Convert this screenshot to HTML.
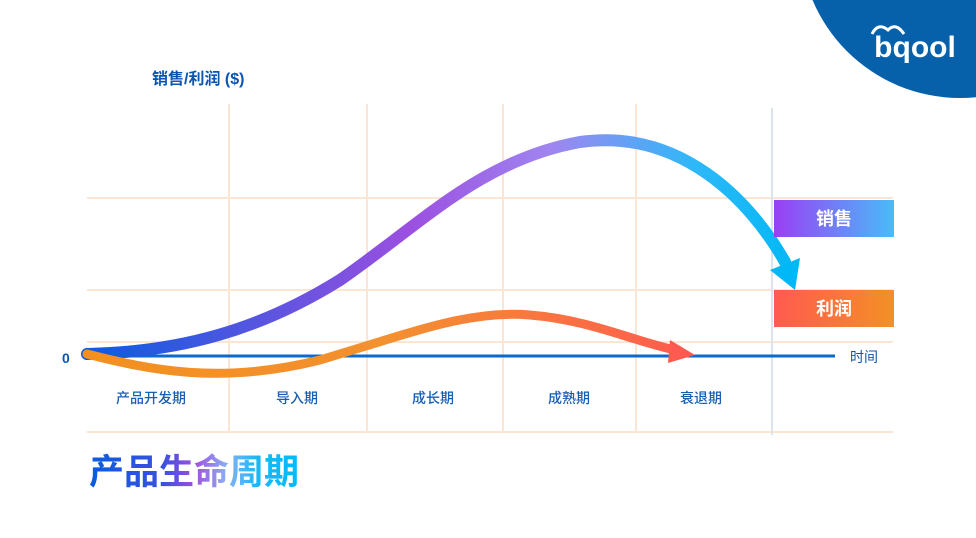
<!DOCTYPE html>
<html><head><meta charset="utf-8"><style>
body{margin:0;width:976px;height:533px;background:#fff;overflow:hidden;font-family:"Liberation Sans","Noto Sans CJK SC",sans-serif;}
</style></head><body>
<svg width="976" height="533" viewBox="0 0 976 533" xmlns="http://www.w3.org/2000/svg">
<defs>
<linearGradient id="gs" x1="87" y1="0" x2="800" y2="0" gradientUnits="userSpaceOnUse">
<stop offset="0" stop-color="#0a5ce0"/><stop offset="0.45" stop-color="#9b4fe0"/><stop offset="0.65" stop-color="#a085f0"/><stop offset="0.85" stop-color="#2fb8f8"/><stop offset="1" stop-color="#00b8f5"/></linearGradient>
<linearGradient id="gp" x1="87" y1="0" x2="695" y2="0" gradientUnits="userSpaceOnUse">
<stop offset="0" stop-color="#f39020"/><stop offset="0.5" stop-color="#f39030"/><stop offset="1" stop-color="#ff5a50"/></linearGradient>
<linearGradient id="ls" x1="0" x2="1"><stop offset="0" stop-color="#9a3ff5"/><stop offset="1" stop-color="#48bcf8"/></linearGradient>
<linearGradient id="lp" x1="0" x2="1"><stop offset="0" stop-color="#ff5a50"/><stop offset="1" stop-color="#f39025"/></linearGradient>
<linearGradient id="tt" x1="90" x2="300" gradientUnits="userSpaceOnUse"><stop offset="0" stop-color="#0a5ce0"/><stop offset="0.35" stop-color="#3a50e0"/><stop offset="0.5" stop-color="#a050e0"/><stop offset="0.65" stop-color="#8ab0f0"/><stop offset="0.8" stop-color="#18b8f8"/><stop offset="1" stop-color="#00bcf5"/></linearGradient>
</defs>
<circle cx="960" cy="-62" r="160" fill="#0660aa"/>
<text x="915" y="57" font-size="30" font-weight="bold" fill="#fff" text-anchor="middle" font-family="Liberation Sans,sans-serif">bqool</text>
<path d="M872 34 q6-12 16-4 q8-8 16 4" fill="none" stroke="#fff" stroke-width="3"/>
<g stroke="#fbe6d3" stroke-width="2">
<line x1="87" y1="198" x2="893" y2="198"/><line x1="87" y1="290" x2="893" y2="290"/><line x1="87" y1="342" x2="893" y2="342"/><line x1="87" y1="432" x2="893" y2="432"/>
<line x1="229" y1="104" x2="229" y2="432"/><line x1="367" y1="104" x2="367" y2="432"/><line x1="503" y1="104" x2="503" y2="432"/><line x1="636" y1="104" x2="636" y2="432"/>
</g>
<line x1="772" y1="108" x2="772" y2="435" stroke="#dde3ec" stroke-width="2"/>
<line x1="87" y1="356" x2="835" y2="356" stroke="#0a6ad0" stroke-width="3"/>
<text x="152" y="84" font-size="16" font-weight="bold" fill="#0a55b0">销售/利润 ($)</text>
<text x="62" y="363" font-size="14" font-weight="bold" fill="#0a55b0">0</text>
<text x="850" y="362" font-size="14" fill="#0a55b0">时间</text>
<g font-size="14" fill="#1a5fb0" text-anchor="middle" font-weight="500">
<text x="151" y="403">产品开发期</text><text x="297" y="403">导入期</text><text x="433" y="403">成长期</text><text x="569" y="403">成熟期</text><text x="701" y="403">衰退期</text></g>
<path d="M87 354 C180 352 260 330 340 280 C420 225 480 160 580 142 C680 128 750 200 785 262" fill="none" stroke="url(#gs)" stroke-width="12" stroke-linecap="round"/>
<polygon points="770,270 800,258 795,290" fill="#00b8f5"/>
<path d="M87 354 C150 370 220 385 320 360 C420 330 470 310 530 315 C590 320 630 340 675 350" fill="none" stroke="url(#gp)" stroke-width="9" stroke-linecap="round"/>
<polygon points="670,340 695,355 668,363" fill="#ff5a50"/>
<rect x="774" y="200" width="120" height="37" fill="url(#ls)"/>
<text x="834" y="225" font-size="18" font-weight="bold" fill="#fff" text-anchor="middle">销售</text>
<rect x="774" y="290" width="120" height="37" fill="url(#lp)"/>
<text x="834" y="315" font-size="18" font-weight="bold" fill="#fff" text-anchor="middle">利润</text>
<text x="89" y="484" font-size="35" font-weight="bold" fill="url(#tt)">产品生命周期</text>
</svg>
</body></html>
